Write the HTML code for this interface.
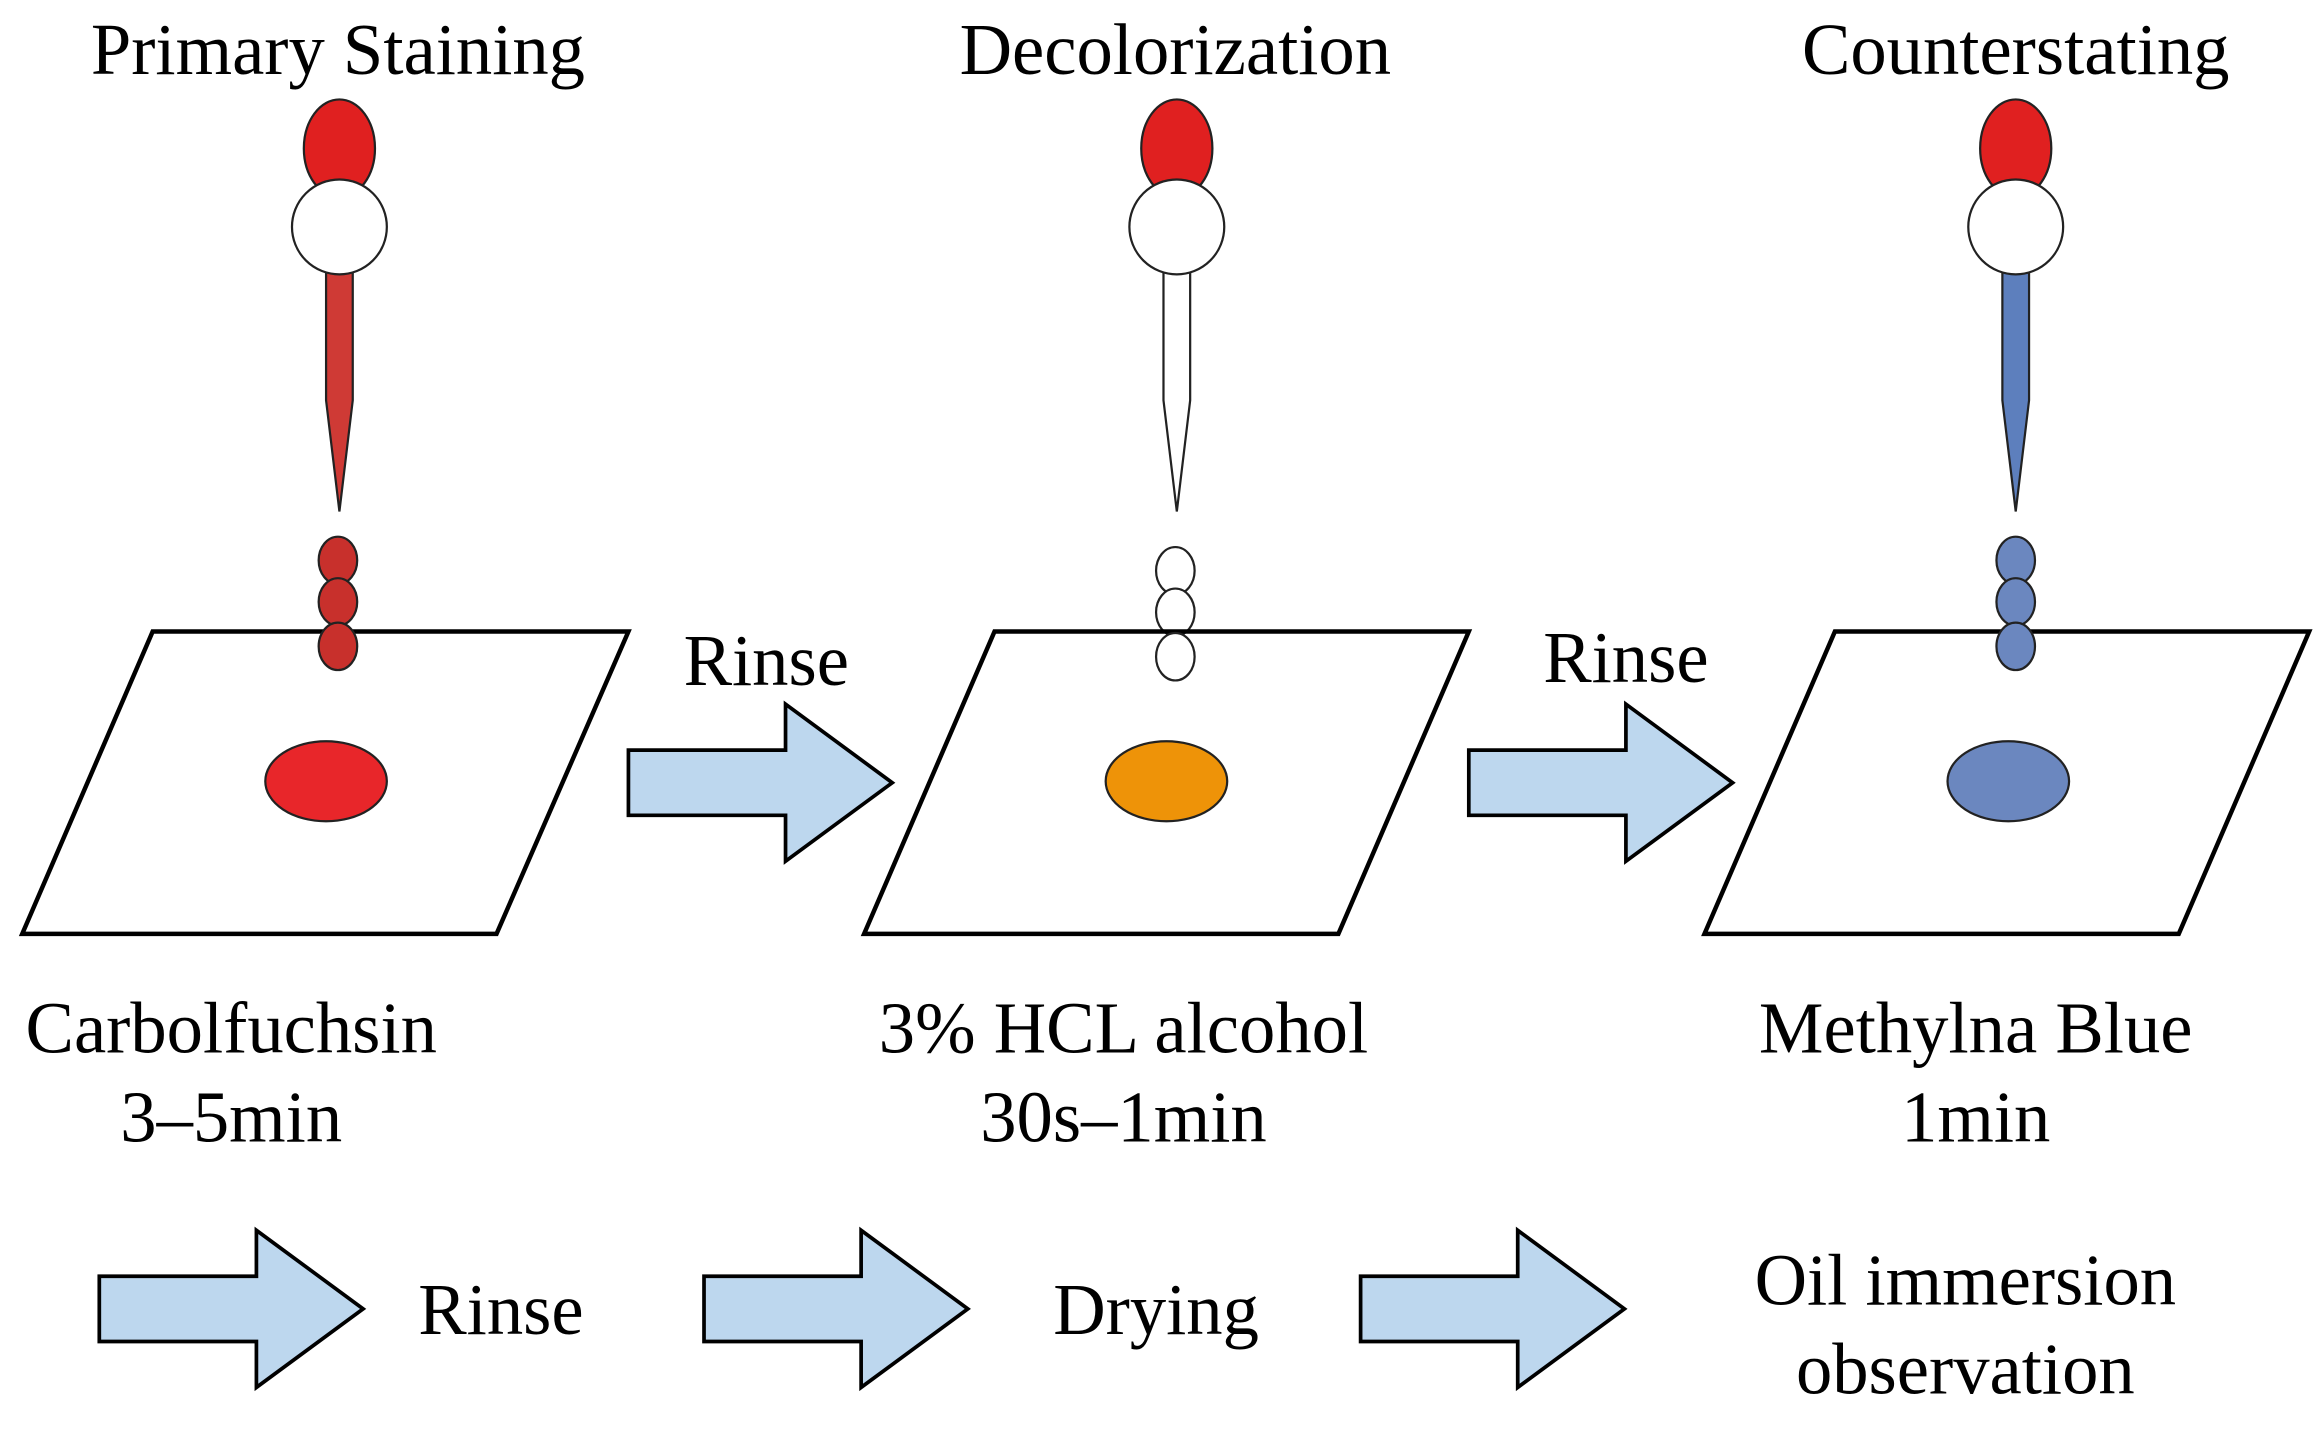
<!DOCTYPE html>
<html><head><meta charset="utf-8"><style>
html,body{margin:0;padding:0;background:#fff;}
svg{display:block;}
text{font-family:"Liberation Serif",serif;font-size:49px;fill:#000;text-anchor:middle;}
</style></head><body>
<svg width="2324" height="1435" viewBox="0 0 1568 968" xmlns="http://www.w3.org/2000/svg">
<defs>
<g id="arr"><path d="M0,-22 H106 V-53 L178,0 L106,53 V22 H0 Z" fill="#bdd7ee" stroke="#000" stroke-width="2.5"/></g>
</defs>
<text x="228" y="50">Primary Staining</text>
<text x="793" y="50">Decolorization</text>
<text x="1360" y="50">Counterstating</text>

<g stroke="#222" stroke-width="1.5">
<ellipse cx="229" cy="100" rx="24" ry="33" fill="#e02020"/>
<path d="M220,180 V270 L229,345 L238,270 V180 Z" fill="#cf3a35"/>
<circle cx="229" cy="153" r="32" fill="#fff"/>
<ellipse cx="228" cy="378" rx="13" ry="16" fill="#c8302c"/>
<ellipse cx="228" cy="406" rx="13" ry="16" fill="#c8302c"/>

<ellipse cx="794" cy="100" rx="24" ry="33" fill="#e02020"/>
<path d="M785,180 V270 L794,345 L803,270 V180 Z" fill="#fff"/>
<circle cx="794" cy="153" r="32" fill="#fff"/>
<ellipse cx="793" cy="385" rx="13" ry="16" fill="#fff"/>
<ellipse cx="793" cy="413" rx="13" ry="16" fill="#fff"/>

<ellipse cx="1360" cy="100" rx="24" ry="33" fill="#e02020"/>
<path d="M1351,180 V270 L1360,345 L1369,270 V180 Z" fill="#5d7fbd"/>
<circle cx="1360" cy="153" r="32" fill="#fff"/>
<ellipse cx="1360" cy="378" rx="13" ry="16" fill="#6b87bf"/>
<ellipse cx="1360" cy="406" rx="13" ry="16" fill="#6b87bf"/>
</g>

<g fill="none" stroke="#000" stroke-width="3">
<path d="M103,426 L424,426 L335,630 L15,630 Z"/>
<path d="M671,426 L991,426 L903,630 L583,630 Z"/>
<path d="M1238,426 L1558,426 L1470,630 L1150,630 Z"/>
</g>
<g stroke="#222" stroke-width="1.5">
<ellipse cx="228" cy="436" rx="13" ry="16" fill="#c8302c"/>
<ellipse cx="793" cy="443" rx="13" ry="16" fill="#fff"/>
<ellipse cx="1360" cy="436" rx="13" ry="16" fill="#6b87bf"/>
<ellipse cx="220" cy="527" rx="41" ry="27" fill="#e8262a"/>
<ellipse cx="787" cy="527" rx="41" ry="27" fill="#ee9308"/>
<ellipse cx="1355" cy="527" rx="41" ry="27" fill="#6b87bf"/>
</g>

<use href="#arr" x="424" y="528"/>
<use href="#arr" x="991" y="528"/>
<text x="517" y="462">Rinse</text>
<text x="1097" y="460">Rinse</text>

<text x="156" y="710">Carbolfuchsin</text>
<text x="156" y="770">3–5min</text>
<text x="758" y="710">3% HCL alcohol</text>
<text x="758" y="770">30s–1min</text>
<text x="1333" y="710">Methylna Blue</text>
<text x="1333" y="770">1min</text>

<use href="#arr" x="67" y="883"/>
<use href="#arr" x="475" y="883"/>
<use href="#arr" x="918" y="883"/>
<text x="338" y="900">Rinse</text>
<text x="780" y="900">Drying</text>
<text x="1326" y="880">Oil immersion</text>
<text x="1326" y="940">observation</text>
</svg>
</body></html>
